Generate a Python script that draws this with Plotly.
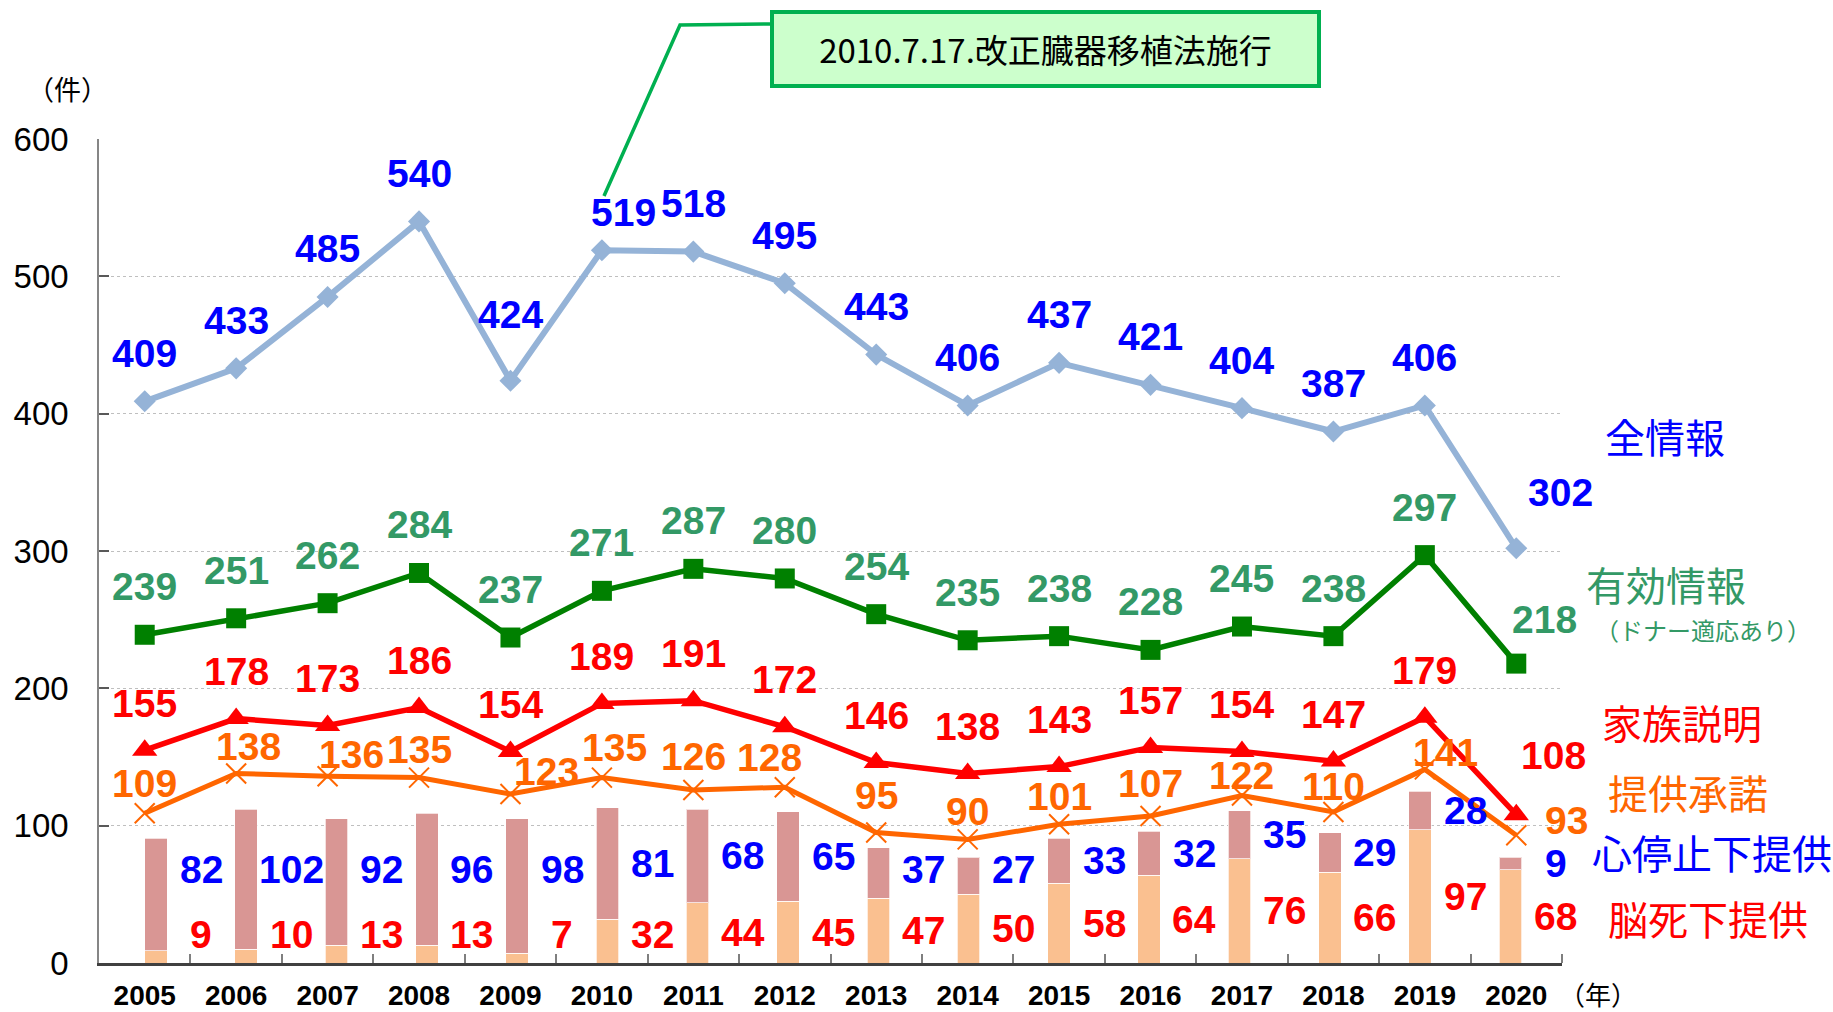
import plotly.graph_objects as go

# ---------------- data ----------------
years = [2005, 2006, 2007, 2008, 2009, 2010, 2011, 2012,
         2013, 2014, 2015, 2016, 2017, 2018, 2019, 2020]
year_labels = [str(y) for y in years]

all_info = [409, 433, 485, 540, 424, 519, 518, 495, 443, 406, 437, 421, 404, 387, 406, 302]
valid_info = [239, 251, 262, 284, 237, 271, 287, 280, 254, 235, 238, 228, 245, 238, 297, 218]
family_expl = [155, 178, 173, 186, 154, 189, 191, 172, 146, 138, 143, 157, 154, 147, 179, 108]
consent = [109, 138, 136, 135, 123, 135, 126, 128, 95, 90, 101, 107, 122, 110, 141, 93]
brain_death = [9, 10, 13, 13, 7, 32, 44, 45, 47, 50, 58, 64, 76, 66, 97, 68]
cardiac = [82, 102, 92, 96, 98, 81, 68, 65, 37, 27, 33, 32, 35, 29, 28, 9]

y_ticks = [0, 100, 200, 300, 400, 500, 600]

# ---------------- styling ----------------
W, H = 1833, 1012
ML, MR, MT, MB = 99, 271, 139, 49
PW, PH = W - ML - MR, H - MT - MB

C_ALL_LINE = "#95B3D7"
C_BLUE = "#0000FF"
C_GREEN_LINE = "#008000"
C_GREEN_TXT = "#339966"
C_RED = "#FF0000"
C_ORANGE = "#FF6600"
C_BD = "#FAC090"
C_CS = "#D99694"

NUM_FONT = "Liberation Sans, Arial, sans-serif"
JP_FONT = "Noto Sans CJK JP, sans-serif"
LBL = 39


def px2paper(px, py):
    return (px - ML) / PW, (H - MB - py) / PH


fig = go.Figure()

# stacked bars on the base axis (drawn underneath)
fig.add_trace(go.Bar(x=years, y=brain_death, xaxis="x", yaxis="y",
                     width=0.249, marker=dict(color=C_BD, line=dict(width=1, color="rgba(255,255,255,0.7)")),
                     hoverinfo="skip"))
fig.add_trace(go.Bar(x=years, y=cardiac, xaxis="x", yaxis="y",
                     width=0.249, marker=dict(color=C_CS, line=dict(width=1, color="rgba(255,255,255,0.7)")),
                     hoverinfo="skip"))

# lines on the overlaying category axis
fig.add_trace(go.Scatter(x=years, y=consent, xaxis="x2", yaxis="y", mode="lines+markers",
                         line=dict(color=C_ORANGE, width=5),
                         marker=dict(symbol="x-thin", size=20, line=dict(color=C_ORANGE, width=2))))
fig.add_trace(go.Scatter(x=years, y=family_expl, xaxis="x2", yaxis="y", mode="lines+markers",
                         line=dict(color=C_RED, width=5.5),
                         marker=dict(symbol="triangle-up", size=22, color=C_RED)))
fig.add_trace(go.Scatter(x=years, y=valid_info, xaxis="x2", yaxis="y", mode="lines+markers",
                         line=dict(color=C_GREEN_LINE, width=5.5),
                         marker=dict(symbol="square", size=20, color=C_GREEN_LINE)))
fig.add_trace(go.Scatter(x=years, y=all_info, xaxis="x2", yaxis="y", mode="lines+markers",
                         line=dict(color=C_ALL_LINE, width=6),
                         marker=dict(symbol="diamond", size=17, color=C_ALL_LINE)))

annotations = []

# per-label nudges (pixels) for labels the original moved by hand
nudge = {
    ("all", 2009): (0, 18), ("all", 2010): (22, -10), ("all", 2020): (44, 8),
    ("valid", 2020): (28, -4),
    ("fam", 2020): (37, 12),
    ("con", 2005): (0, 2), ("con", 2006): (12, -1), ("con", 2007): (24, -6),
    ("con", 2009): (36, -5), ("con", 2010): (13, 2), ("con", 2011): (0, 5),
    ("con", 2012): (-15, 2), ("con", 2013): (0, 9), ("con", 2016): (0, 5),
    ("con", 2017): (0, -8), ("con", 2018): (0, -3), ("con", 2019): (21, -11),
    ("con", 2020): (50, -13),
}

series = [
    ("all", all_info, C_BLUE, 48),
    ("valid", valid_info, C_GREEN_TXT, 48),
    ("fam", family_expl, C_RED, 47),
    ("con", consent, C_ORANGE, 28),
]
for key, vals, col, dy in series:
    for yr, v in zip(years, vals):
        dx, ddy = nudge.get((key, yr), (0, 0))
        annotations.append(dict(
            x=yr, y=v, xref="x2", yref="y", text=str(v), showarrow=False,
            xanchor="center", yanchor="middle", xshift=dx, yshift=dy + ddy,
            font=dict(family=NUM_FONT, size=LBL, color=col, weight="bold")))

# bar value labels (to the right of each bar)
for yr, bd, cs in zip(years, brain_death, cardiac):
    annotations.append(dict(
        x=yr + 0.5, y=max(68, bd + cs / 2), xref="x", yref="y", text=str(cs),
        showarrow=False, xanchor="center", yanchor="middle",
        font=dict(family=NUM_FONT, size=LBL, color=C_BLUE, weight="bold")))
    annotations.append(dict(
        x=yr + 0.5, y=max(21, bd / 2), xref="x", yref="y", text=str(bd),
        showarrow=False, xanchor="center", yanchor="middle",
        font=dict(family=NUM_FONT, size=LBL, color=C_RED, weight="bold")))

# series names on the right
side = [
    ("全情報", 1665, 436, C_BLUE, 40),
    ("有効情報", 1666, 584, C_GREEN_TXT, 40),
    ("（ドナー適応あり）", 1703, 629, C_GREEN_TXT, 24),
    ("家族説明", 1682, 722, C_RED, 40),
    ("提供承諾", 1688, 792, C_ORANGE, 40),
    ("心停止下提供", 1712, 852, C_BLUE, 40),
    ("脳死下提供", 1708, 918, C_RED, 40),
    ("（件）", 67, 89, "#000000", 27),
    ("（年）", 1598, 993, "#000000", 26),
]
for txt, px, py, col, sz in side:
    xp, yp = px2paper(px, py)
    annotations.append(dict(x=xp, y=yp, xref="paper", yref="paper", text=txt,
                            showarrow=False, xanchor="center", yanchor="middle",
                            font=dict(family=JP_FONT, size=sz, color=col)))

# callout box
bx, by = px2paper(1045.5, 49)
annotations.append(dict(x=bx, y=by, xref="paper", yref="paper",
                        text="2010.7.17.改正臓器移植法施行", showarrow=False,
                        xanchor="center", yanchor="middle",
                        width=541, height=68, borderpad=1, borderwidth=4,
                        bordercolor="#00B050", bgcolor="#CCFFCC",
                        font=dict(family=JP_FONT, size=33, color="#000000")))

p0 = px2paper(604, 196)
p1 = px2paper(680, 25)
p2 = px2paper(770, 24)
shapes = [dict(type="path", xref="paper", yref="paper",
               path=f"M {p0[0]},{p0[1]} L {p1[0]},{p1[1]} L {p2[0]},{p2[1]}",
               line=dict(color="#00B050", width=3.5))]

fig.update_layout(
    width=W, height=H,
    margin=dict(l=ML, r=MR, t=MT, b=MB, autoexpand=False),
    plot_bgcolor="white", paper_bgcolor="white",
    showlegend=False, barmode="stack",
    annotations=annotations, shapes=shapes,
    xaxis=dict(range=[2004.370, 2020.571], visible=False, fixedrange=True),
    xaxis2=dict(overlaying="x", anchor="y", side="bottom",
                range=[2004.5, 2020.5], automargin=False,
                tickmode="array", tickvals=years, ticktext=year_labels,
                tickfont=dict(family=NUM_FONT, size=28, color="#000000", weight="bold"),
                ticks="", ticklabelstandoff=5,
                showline=True, linecolor="#404040", linewidth=3,
                showgrid=False, zeroline=False,
                minor=dict(tickmode="array", tickvals=[y + 0.5 for y in years],
                           ticks="inside", ticklen=9, tickwidth=1.5, tickcolor="#7F7F7F")),
    yaxis=dict(range=[0, 600], tickmode="array", tickvals=y_ticks, automargin=False,
               tickfont=dict(family=NUM_FONT, size=33, color="#000000"),
               ticks="inside", ticklen=10, tickwidth=1.5, tickcolor="#595959",
               ticklabelstandoff=22,
               showline=True, linecolor="#868686", linewidth=1.5,
               showgrid=True, gridcolor="#BFBFBF", griddash="dot", gridwidth=1,
               zeroline=False),
)

fig.write_html("out.html", config={"displayModeBar": False},
               post_script="document.body.style.margin='0px';")
